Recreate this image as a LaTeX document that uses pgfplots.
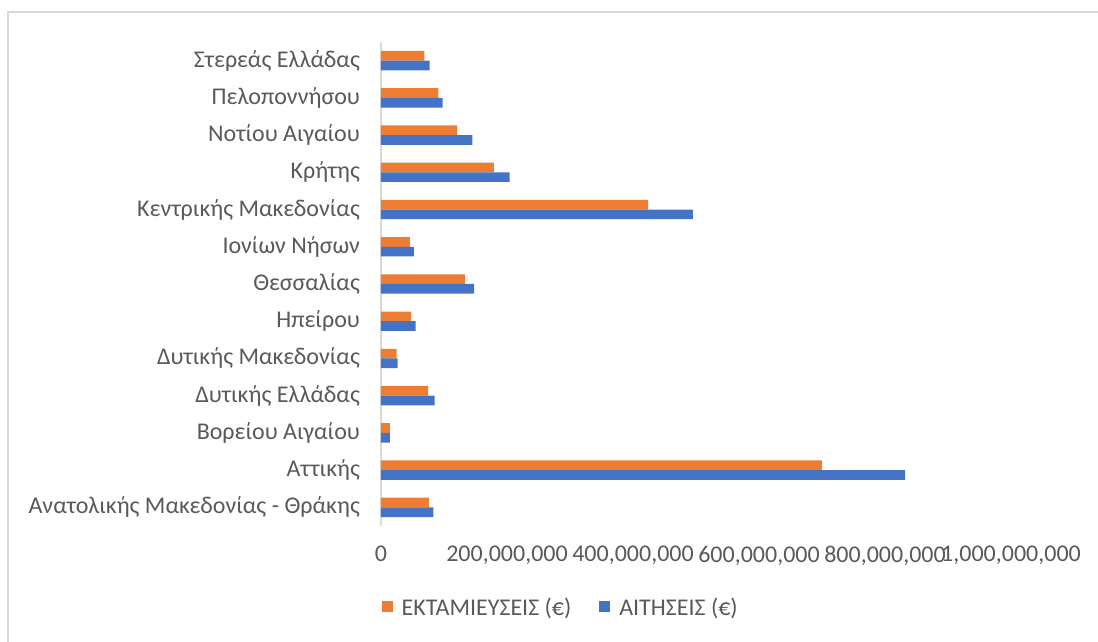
\documentclass[border=0pt]{standalone}
\usepackage{pgfplots}
\pgfplotsset{compat=1.18}
\usepackage{fontspec}
\setmainfont{Carlito}
\definecolor{corange}{HTML}{ED7D31}
\definecolor{cblue}{HTML}{4472C4}
\definecolor{ctext}{HTML}{595959}
\definecolor{cframe}{HTML}{D9D9D9}
\begin{document}
\begin{tikzpicture}
\begin{axis}[
  at={(0,0)}, anchor=south west,
  scale only axis, width=315pt, height=242pt,
  xmin=0, xmax=1000, ymin=-0.5, ymax=12.5,
  xbar, bar width=4.85pt,
  axis lines*=left,
  x axis line style={draw=none},
  y axis line style={draw=cframe, line width=1pt},
  major tick length=0pt,
  xtick={0,200,400,600,800,1000},
  xticklabels={0,{200,000,000},{400,000,000},{600,000,000},{800,000,000},{1,000,000,000}},
  ytick={0,...,12},
  yticklabels={Ανατολικής Μακεδονίας - Θράκης,Αττικής,Βορείου Αιγαίου,Δυτικής Ελλάδας,Δυτικής Μακεδονίας,Ηπείρου,Θεσσαλίας,Ιονίων Νήσων,Κεντρικής Μακεδονίας,Κρήτης,Νοτίου Αιγαίου,Πελοποννήσου,Στερεάς Ελλάδας},
  ticklabel style={font=\fontsize{12}{14}\selectfont, text=ctext},
  xticklabel style={yshift=-6.5pt},
  yticklabel style={xshift=-7pt},
  legend style={at={(0.287,-0.169)}, anchor=center, draw=none, legend columns=2,
    font=\fontsize{12}{14}\selectfont, text=ctext,
    /tikz/every odd column/.append style={column sep=2.5pt},
    /tikz/every even column/.append style={column sep=12pt}},
  legend image code/.code={\fill[#1] (0pt,-2pt) rectangle (5.4pt,3.4pt);},
  clip=false,
]
\addplot[fill=corange, draw=none, bar shift=2.42pt] coordinates {
(76,0) (700,1) (14,2) (75,3) (25,4) (48,5) (133,6) (46,7) (424,8) (179,9) (121,10) (91,11) (69,12)};
\addlegendentry{ΕΚΤΑΜΙΕΥΣΕΙΣ (€)}
\addplot[fill=cblue, draw=none, bar shift=-2.42pt] coordinates {
(83,0) (832,1) (14,2) (85,3) (26.5,4) (55,5) (148,6) (52,7) (495,8) (204,9) (145,10) (98,11) (77,12)};
\addlegendentry{ΑΙΤΗΣΕΙΣ (€)}
\end{axis}
\draw[cframe, line width=0.6pt] (-186.5pt,-80pt) -- (-186.5pt,257pt) -- (380pt,257pt);
\pgfresetboundingbox
\useasboundingbox (-190.5pt,-58pt) rectangle (358.5pt,263pt);
\end{tikzpicture}
\end{document}
